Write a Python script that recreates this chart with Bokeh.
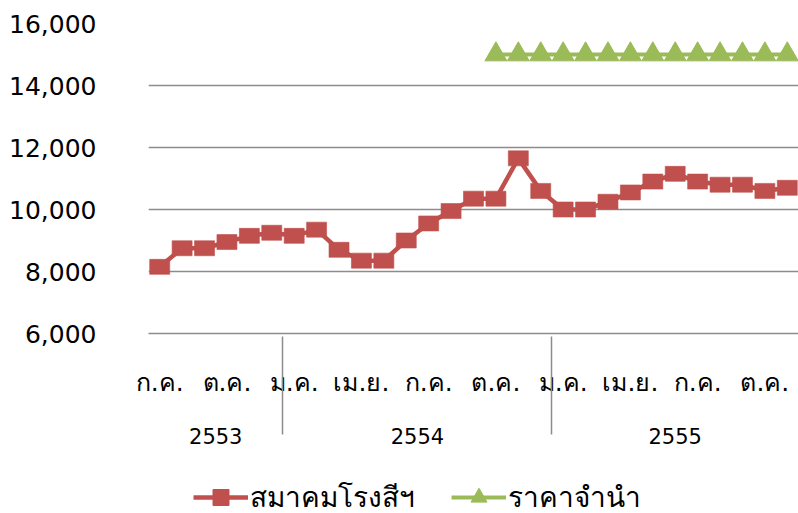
from bokeh.plotting import figure
from bokeh.layouts import column
from bokeh.models import (FactorRange, Range1d, FixedTicker, NumeralTickFormatter,
                          Legend, LegendItem, CustomJSTickFormatter, ColumnDataSource)
from bokeh.embed import file_html
from bokeh.resources import INLINE

# ---- data ----
years = ["2553"] * 6 + ["2554"] * 12 + ["2555"] * 11
months = ["ก.ค.", "ส.ค.", "ก.ย.", "ต.ค.", "พ.ย.", "ธ.ค.",
          "ม.ค.", "ก.พ.", "มี.ค.", "เม.ย.", "พ.ค.", "มิ.ย.",
          "ก.ค.", "ส.ค.", "ก.ย.", "ต.ค.", "พ.ย.", "ธ.ค.",
          "ม.ค.", "ก.พ.", "มี.ค.", "เม.ย.", "พ.ค.", "มิ.ย.",
          "ก.ค.", "ส.ค.", "ก.ย.", "ต.ค.", "พ.ย."]
shown_months = ["ก.ค.", "ต.ค.", "ม.ค.", "เม.ย."]
mill_assoc = [8150, 8750, 8750, 8950, 9150, 9250,
              9150, 9350, 8700, 8350, 8350, 9000,
              9550, 9950, 10350, 10350, 11650, 10600,
              10000, 10000, 10250, 10550, 10900, 11150,
              10900, 10800, 10800, 10600, 10700]
pledge_start = 15  # first month with a pledge price (ต.ค. 2554)
pledge_price = [15000] * 14
y_ticks = [6000, 8000, 10000, 12000, 14000, 16000]
series_names = ["สมาคมโรงสีฯ", "ราคาจำนำ"]

factors = list(zip(years, months))

RED = "#C0504D"
GREEN = "#9BBB59"
GRID = "#8C8C8C"
FONT = "DejaVu Sans"

x_range = FactorRange(factors=factors, range_padding=0, factor_padding=0, group_padding=0)

p = figure(width=798, height=470, output_backend="svg", toolbar_location=None,
           x_range=x_range, y_range=Range1d(6000, 16000),
           min_border_left=148, min_border_right=0, min_border_top=23,
           min_border_bottom=137)
p.outline_line_color = None
p.xgrid.visible = False
p.ygrid.grid_line_color = GRID
p.ygrid.grid_line_width = 1.5

# y axis
ya = p.yaxis[0]
ya.ticker = FixedTicker(ticks=y_ticks)
ya.formatter = NumeralTickFormatter(format="0,0")
ya.axis_line_color = None
ya.major_tick_line_color = None
ya.minor_tick_line_color = None
ya.major_label_standoff = 46
ya.major_label_text_font = FONT
ya.major_label_text_font_size = "25px"
ya.major_label_text_color = "black"

# x axis (grouped categories)
xa = p.xaxis[0]
xa.formatter = CustomJSTickFormatter(args=dict(shown=shown_months),
                                     code="return shown.includes(tick) ? tick : ''")
xa.axis_line_color = GRID
xa.axis_line_width = 1.5
xa.major_tick_line_color = None
xa.minor_tick_line_color = None
xa.major_label_standoff = 28
xa.major_label_text_font = FONT
xa.major_label_text_font_size = "25px"
xa.major_label_text_color = "black"
xa.group_text_font = FONT
xa.group_text_font_size = "21px"
xa.group_text_font_style = "normal"
xa.group_text_color = "black"
xa.separator_line_color = GRID
xa.separator_line_width = 1.5

src1 = ColumnDataSource(dict(x=factors, y=mill_assoc))
src2 = ColumnDataSource(dict(x=factors[pledge_start:], y=pledge_price))

# series 1
p.line("x", "y", source=src1, line_color=RED, line_width=4.5)
p.rect("x", "y", width=20, height=15, width_units="screen", height_units="screen",
       source=src1, fill_color=RED, line_color=RED, line_alpha=0.6)

# series 2
p.line("x", "y", source=src2, line_color=GREEN, line_width=4)
p.scatter("x", "y", source=src2, marker="triangle", size=22,
          fill_color=GREEN, line_color=GREEN)

# legend strip below the chart (its glyph renderers sit outside its visible range)
lp = figure(width=798, height=43, output_backend="svg", toolbar_location=None,
            x_range=x_range, y_range=Range1d(0, 1), x_axis_location=None,
            y_axis_location=None, min_border=0)
lp.outline_line_color = None
lp.grid.visible = False
l1 = lp.line("x", "y", source=src1, line_color=RED, line_width=4.5)
m1 = lp.scatter("x", "y", source=src1, marker="square", size=16,
                fill_color=RED, line_color=RED)
l2 = lp.line("x", "y", source=src2, line_color=GREEN, line_width=4)
m2 = lp.scatter("x", "y", source=src2, marker="triangle", size=22,
                fill_color=GREEN, line_color=GREEN)

legend = Legend(items=[LegendItem(label=series_names[0], renderers=[l1, m1]),
                       LegendItem(label=series_names[1], renderers=[l2, m2])],
                orientation="horizontal", location=(45, -6),
                glyph_width=55, glyph_height=40, label_standoff=2, spacing=36,
                padding=0, margin=0, border_line_color=None, background_fill_alpha=0,
                label_text_font=FONT, label_text_font_size="28px",
                label_text_color="black")
lp.add_layout(legend, "center")

open("out.html", "w").write(file_html(column(p, lp, spacing=0), INLINE))
